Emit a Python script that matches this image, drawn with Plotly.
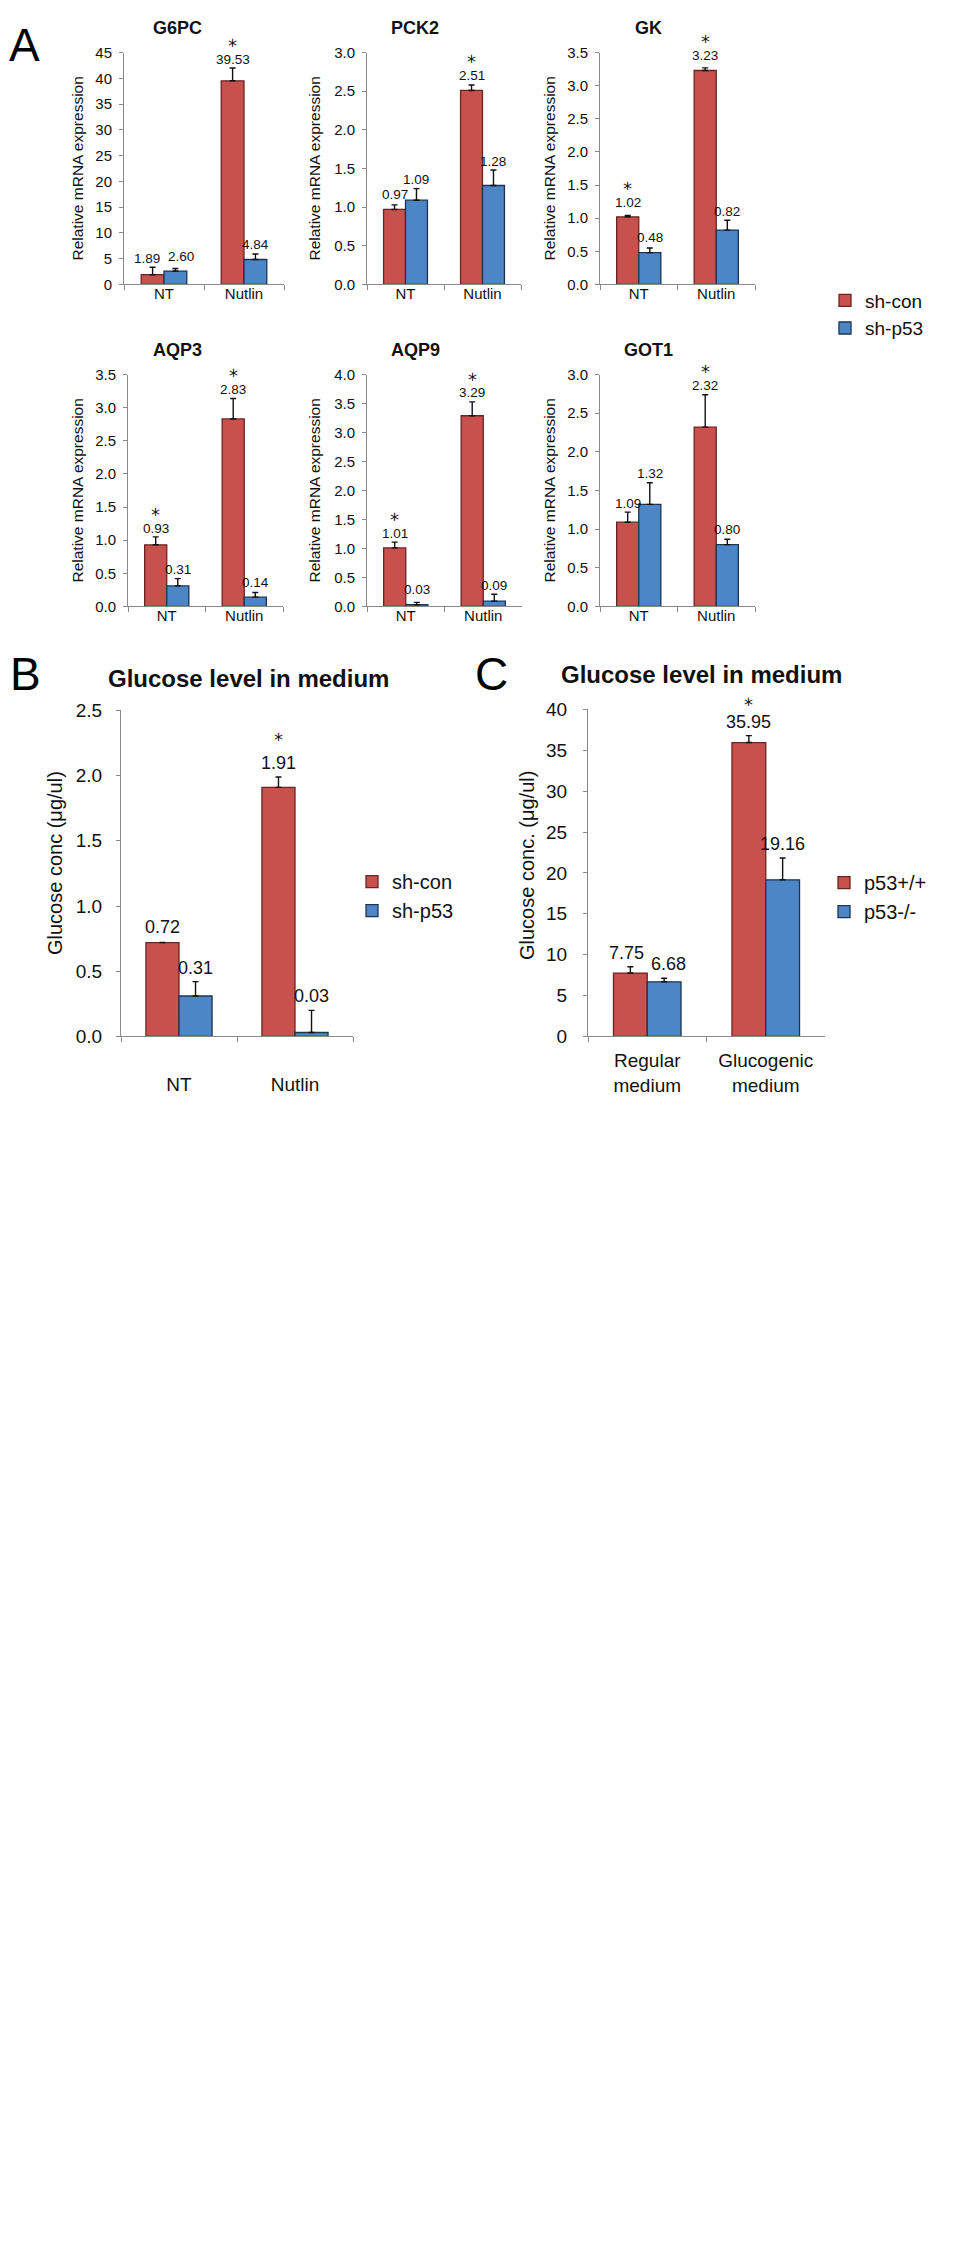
import plotly.graph_objects as go

W, H = 960, 2268

# ---------------- data ----------------
genes = ["G6PC", "PCK2", "GK", "AQP3", "AQP9", "GOT1"]
conditions = ["NT", "Nutlin"]
sh_con = [[1.89, 39.53], [0.97, 2.51], [1.02, 3.23], [0.93, 2.83], [1.01, 3.29], [1.09, 2.32]]
sh_p53 = [[2.60, 4.84], [1.09, 1.28], [0.48, 0.82], [0.31, 0.14], [0.03, 0.09], [1.32, 0.80]]
sh_con_err = [[1.45, 2.47], [0.06, 0.07], [0.02, 0.04], [0.12, 0.31], [0.10, 0.24], [0.13, 0.42]]
sh_p53_err = [[0.48, 1.06], [0.15, 0.20], [0.07, 0.15], [0.11, 0.07], [0.04, 0.12], [0.28, 0.07]]
sh_con_sig = [[False, True], [False, True], [True, True], [True, True], [True, True], [False, True]]
gene_ymax = [45, 3.0, 3.5, 3.5, 4.0, 3.0]
gene_dtick = [5, 0.5, 0.5, 0.5, 0.5, 0.5]

b_conditions = ["NT", "Nutlin"]
b_con = [0.72, 1.91]
b_p53 = [0.31, 0.03]
b_con_err = [0.0, 0.08]
b_p53_err = [0.11, 0.17]
b_sig = [False, True]

c_conditions = ["Regular<br>medium", "Glucogenic<br>medium"]
c_wt = [7.75, 35.95]
c_ko = [6.68, 19.16]
c_wt_err = [0.77, 0.85]
c_ko_err = [0.43, 2.66]
c_sig = [False, True]

# ---------------- style ----------------
RED, RED_LINE = "#C8504D", "#6A2422"
BLUE, BLUE_LINE = "#4C86C7", "#1D3452"
FONT = 'Arial, "Liberation Sans", sans-serif'
STAR_FONT = '"DejaVu Sans", sans-serif'
AXC = "#8a8a8a"
TXT = "#111111"
BARGAP = 0.43

fig = go.Figure()
annotations = []

def dom_x(a, b):
    return [a / W, b / W]

def dom_y(top, bottom):
    return [1 - bottom / H, 1 - top / H]

def ax_names(n):
    s = "" if n == 1 else str(n)
    return "x" + s, "y" + s, "xaxis" + s, "yaxis" + s

def add_panel(n, cats, s1, s2, e1, e2, sig, names, colors, ymax, dtick, tickfmt,
              box, tickfont, labfont, gap_bar, gap_err, star_gap, legend, showleg,
              xstandoff, ystandoff):
    xr, yr, xk, yk = ax_names(n)
    x0, x1, top, bottom = box
    for vals, errs, nm, (fc, lc) in ((s1, e1, names[0], colors[0]), (s2, e2, names[1], colors[1])):
        fig.add_trace(go.Bar(
            x=cats, y=vals, name=nm, xaxis=xr, yaxis=yr,
            marker=dict(color=fc, line=dict(color=lc, width=1.3)),
            error_y=dict(type="data", symmetric=False, array=errs, arrayminus=[0] * len(errs),
                         color="#111111", thickness=1.4, width=3),
            showlegend=showleg, legend=legend, legendgroup=legend + nm,
        ))
    fig.layout[xk] = dict(domain=dom_x(x0, x1), anchor=yr, type="category",
                          showline=True, linecolor=AXC, linewidth=1, showgrid=False,
                          ticks="outside", tickson="boundaries", ticklen=5, tickcolor=AXC,
                          tickfont=dict(family=FONT, size=tickfont, color=TXT),
                          ticklabelstandoff=xstandoff, fixedrange=True)
    fig.layout[yk] = dict(domain=dom_y(top, bottom), anchor=xr, range=[0, ymax],
                          dtick=dtick, tick0=0, tickformat=tickfmt,
                          showline=True, linecolor=AXC, linewidth=1, showgrid=False,
                          zeroline=False, ticks="outside", ticklen=4, tickcolor=AXC,
                          tickfont=dict(family=FONT, size=tickfont, color=TXT),
                          ticklabelstandoff=ystandoff, fixedrange=True)
    ppu = (bottom - top) / ymax
    bw = (x1 - x0) / len(cats) * (1 - BARGAP) / 2
    for i, c in enumerate(cats):
        info = []
        for series, errs, shift in ((s1, e1, -bw / 2), (s2, e2, bw / 2)):
            v = series[i]
            off = max(gap_bar, errs[i] * ppu + gap_err)
            txt = f"{v:.2f}"
            info.append(dict(v=v, off=off, base=v * ppu + off, shift=shift, txt=txt,
                             w=labfont * (0.556 * (len(txt) - 1) + 0.278)))
        a, b = info
        cap = labfont * 0.75
        if abs(a["base"] - b["base"]) < cap:
            overlap = (a["shift"] + a["w"] / 2) - (b["shift"] - b["w"] / 2) + 7
            if overlap > 0:
                a["shift"] -= overlap / 2
                b["shift"] += overlap / 2
        for k, d in enumerate(info):
            ys = d["off"] - labfont * 0.28
            annotations.append(dict(x=c, y=d["v"], xref=xr, yref=yr, xshift=d["shift"], yshift=ys,
                                    text=d["txt"], showarrow=False, yanchor="bottom",
                                    font=dict(family=FONT, size=labfont, color=TXT)))
            if k == 0 and sig[i]:
                # low asterisk sits near the baseline, so it can hug the label without overlapping it
                annotations.append(dict(x=c, y=d["v"], xref=xr, yref=yr, xshift=-bw / 2,
                                        yshift=ys + labfont * 1.25 + star_gap, text="⁎",
                                        showarrow=False, yanchor="bottom",
                                        font=dict(family=STAR_FONT, size=18, color=TXT)))

# Panel A boxes (x0, x1, top, bottom) in pixels
boxesA = [(124, 284, 43, 277), (367, 521, 43, 277), (600, 755, 43, 277),
          (128, 283, 368, 602), (367, 522, 368, 602), (600, 755, 368, 602)]
title_x = [177, 415, 648, 177, 415, 648]
title_y = [18, 18, 18, 343, 343, 343]
ytitle_x = [78, 315, 550, 78, 315, 550]

for g in range(6):
    add_panel(g + 1, conditions, sh_con[g], sh_p53[g], sh_con_err[g], sh_p53_err[g],
              sh_con_sig[g], ["sh-con", "sh-p53"], [(RED, RED_LINE), (BLUE, BLUE_LINE)],
              gene_ymax[g], gene_dtick[g], ",d" if gene_dtick[g] >= 1 else ".1f",
              boxesA[g], 15, 13.5, 9, 3, 0, "legend", g == 0, -4, 4)
    bx = boxesA[g]
    annotations.append(dict(x=title_x[g] / W, y=1 - title_y[g] / H, xref="paper", yref="paper",
                            text=f"<b>{genes[g]}</b>", showarrow=False, xanchor="center",
                            yanchor="middle", font=dict(family=FONT, size=18, color=TXT)))
    annotations.append(dict(x=ytitle_x[g] / W, y=1 - (bx[2] + bx[3]) / 2 / H, xref="paper",
                            yref="paper", text="Relative mRNA expression", textangle=-90,
                            showarrow=False, xanchor="center", yanchor="middle",
                            font=dict(family=FONT, size=15.5, color=TXT)))

# Panel B
add_panel(7, b_conditions, b_con, b_p53, b_con_err, b_p53_err, b_sig,
          ["sh-con", "sh-p53"], [(RED, RED_LINE), (BLUE, BLUE_LINE)],
          2.5, 0.5, ".1f", (121, 353, 707, 1036), 19, 18, 9, 7, 6, "legend2", True, 31, 10)
# Panel C
add_panel(8, c_conditions, c_wt, c_ko, c_wt_err, c_ko_err, c_sig,
          ["p53+/+", "p53-/-"], [(RED, RED_LINE), (BLUE, BLUE_LINE)],
          40, 5, ",d", (588, 825, 706, 1036), 19, 18, 9, 7, 0, "legend3", True, 7, 12)

for txt, cx, cy in (("Glucose level in medium", 248, 675), ("Glucose level in medium", 701, 671)):
    annotations.append(dict(x=cx / W, y=1 - cy / H, xref="paper", yref="paper",
                            text=f"<b>{txt}</b>", showarrow=False, xanchor="center",
                            yanchor="middle", font=dict(family=FONT, size=24, color=TXT)))
for txt, cx, cy in (("Glucose conc (μg/ul)", 55, 861), ("Glucose conc. (μg/ul)", 527, 864)):
    annotations.append(dict(x=cx / W, y=1 - cy / H, xref="paper", yref="paper", text=txt,
                            textangle=-90, showarrow=False, xanchor="center", yanchor="middle",
                            font=dict(family=FONT, size=20, color=TXT)))
for txt, cx, cy in (("A", 24, 35), ("B", 25, 670), ("C", 492, 670)):
    annotations.append(dict(x=cx / W, y=1 - cy / H, xref="paper", yref="paper", text=txt,
                            showarrow=False, xanchor="center", yanchor="middle",
                            font=dict(family=FONT, size=46, color="#000000")))

def legend_at(left, top, size):
    return dict(x=left / W, y=1 - top / H, xanchor="left", yanchor="top",
                bgcolor="rgba(0,0,0,0)", borderwidth=0, tracegroupgap=0,
                font=dict(family=FONT, size=size, color=TXT), itemwidth=30)

fig.update_layout(
    width=W, height=H, margin=dict(l=0, r=0, t=0, b=0),
    paper_bgcolor="white", plot_bgcolor="white",
    barmode="group", bargap=BARGAP, bargroupgap=0,
    annotations=annotations,
    legend=legend_at(825, 274, 19),
    legend2=legend_at(352, 860, 20),
    legend3=legend_at(824, 861, 20),
    font=dict(family=FONT, color=TXT),
)

fig.write_html("out.html", config={"displayModeBar": False, "staticPlot": True},
               post_script="document.body.style.margin='0px';")
